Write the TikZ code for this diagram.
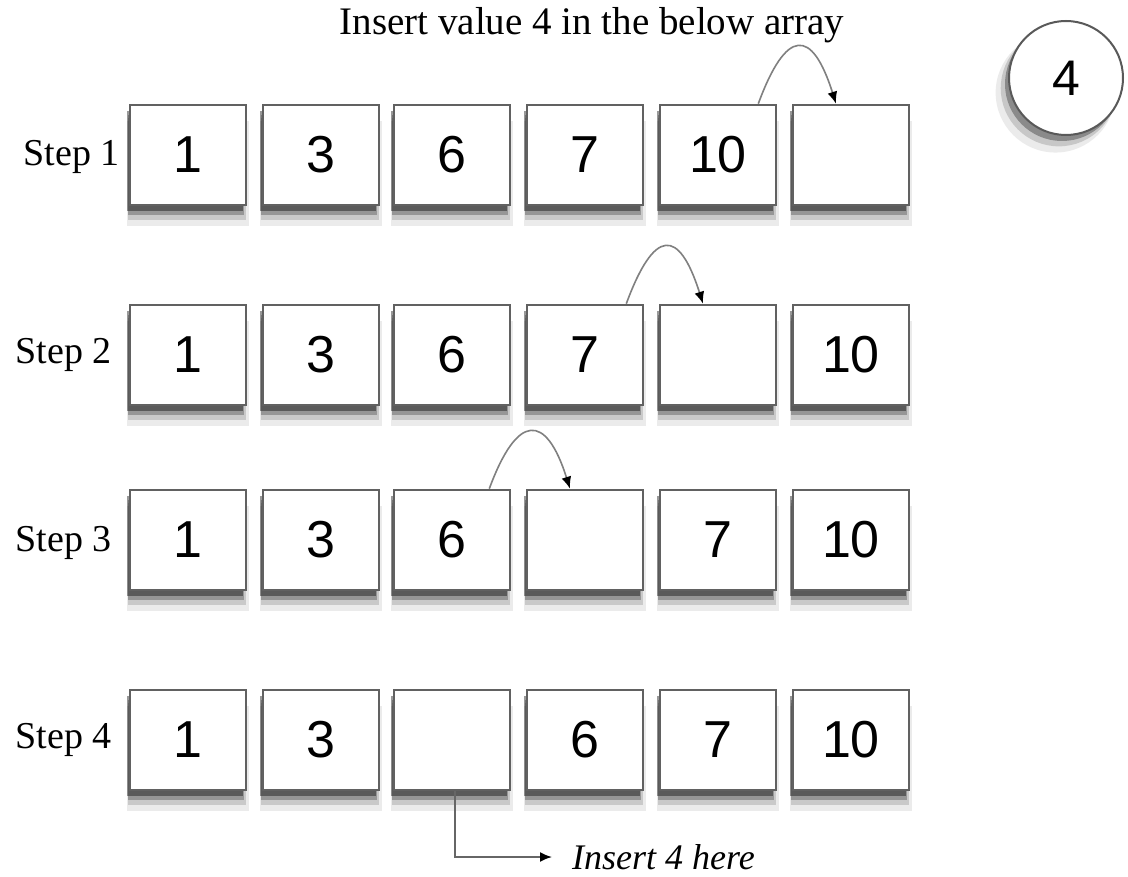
\documentclass[tikz,border=0pt]{standalone}
\usepackage{fontspec}
\setmainfont{Liberation Serif}
\newfontfamily\digitfont{Liberation Sans}
\usetikzlibrary{shadows,arrows.meta}
\begin{document}
\begin{tikzpicture}[x=1pt,y=-1pt,
  cellbox/.style={draw=black!62, line width=2.6pt, fill=white, minimum width=116pt, minimum height=100pt,
    inner sep=0pt, font=\digitfont\fontsize{52}{54}\selectfont,
    general shadow={fill=black, opacity=.08, shadow yshift=-18pt, shadow scale=1.05},
    general shadow={fill=black, opacity=.14, shadow yshift=-14pt, shadow xshift=-1pt, shadow scale=1.02},
    general shadow={fill=black, opacity=.25, shadow yshift=-10pt, shadow xshift=-2pt},
    general shadow={fill=black, opacity=.40, shadow yshift=-6pt, shadow xshift=-3pt}},
  steplabel/.style={anchor=east, inner sep=0pt, font=\fontsize{38}{42}\selectfont},
  hop/.style={draw=black!50, line width=1.6pt, -{Latex[length=12pt,width=10pt,black]}},
  bubble/.style={circle, draw=black!65, line width=2pt, fill=white, minimum size=114pt, inner sep=0pt,
    font=\digitfont\fontsize{50}{52}\selectfont,
    general shadow={fill=black, opacity=.08, shadow yshift=-14pt, shadow xshift=-10pt, shadow scale=1.05},
    general shadow={fill=black, opacity=.15, shadow yshift=-10pt, shadow xshift=-7pt, shadow scale=1.02},
    general shadow={fill=black, opacity=.3, shadow yshift=-6pt, shadow xshift=-4pt}}]
\useasboundingbox (0,0) rectangle (1128,877);
\fill[white] (0,0) rectangle (1128,877);

\node[inner sep=0pt, font=\fontsize{39}{42}\selectfont] (title) at (592,25) {Insert value 4 in the below array};
\node[bubble] (val) at (1066,78) {4};

% row 1
\node[cellbox] (a1) at (188,155) {1};
\node[cellbox] (a2) at (321,155) {3};
\node[cellbox] (a3) at (452,155) {6};
\node[cellbox] (a4) at (585,155) {7};
\node[cellbox] (a5) at (718,155) {10};
\node[cellbox] (a6) at (851,155) {};
\node[steplabel] (s1) at (120,157) {Step 1};

% row 2
\node[cellbox] (b1) at (188,355) {1};
\node[cellbox] (b2) at (321,355) {3};
\node[cellbox] (b3) at (452,355) {6};
\node[cellbox] (b4) at (585,355) {7};
\node[cellbox] (b5) at (718,355) {};
\node[cellbox] (b6) at (851,355) {10};
\node[steplabel] (s2) at (112,355) {Step 2};

% row 3
\node[cellbox] (c1) at (188,540) {1};
\node[cellbox] (c2) at (321,540) {3};
\node[cellbox] (c3) at (452,540) {6};
\node[cellbox] (c4) at (585,540) {};
\node[cellbox] (c5) at (718,540) {7};
\node[cellbox] (c6) at (851,540) {10};
\node[steplabel] (s3) at (112,543) {Step 3};

% row 4
\node[cellbox] (d1) at (188,740) {1};
\node[cellbox] (d2) at (321,740) {3};
\node[cellbox] (d3) at (452,740) {};
\node[cellbox] (d4) at (585,740) {6};
\node[cellbox] (d5) at (718,740) {7};
\node[cellbox] (d6) at (851,740) {10};
\node[steplabel] (s4) at (112,740) {Step 4};

% hops
\draw[hop] ([xshift=-19pt]a5.north east) .. controls +(28,-76) and +(-24,-76) .. ([xshift=-15pt]a6.north);
\draw[hop] ([xshift=-18pt]b4.north east) .. controls +(28,-76) and +(-24,-76) .. ([xshift=-15pt]b5.north);
\draw[hop] ([xshift=-22pt]c3.north east) .. controls +(28,-76) and +(-24,-76) .. ([xshift=-15pt]c4.north);

% insert here
\node[anchor=west, inner sep=0pt, font=\itshape\fontsize{36}{40}\selectfont] (ins) at (572,857) {Insert 4 here};
\draw[draw=black!60, line width=1.8pt, -{Latex[length=12pt,width=10pt,black]}, shorten >=20pt]
  ([xshift=3pt]d3.south) |- (ins.west);
\end{tikzpicture}
\end{document}
